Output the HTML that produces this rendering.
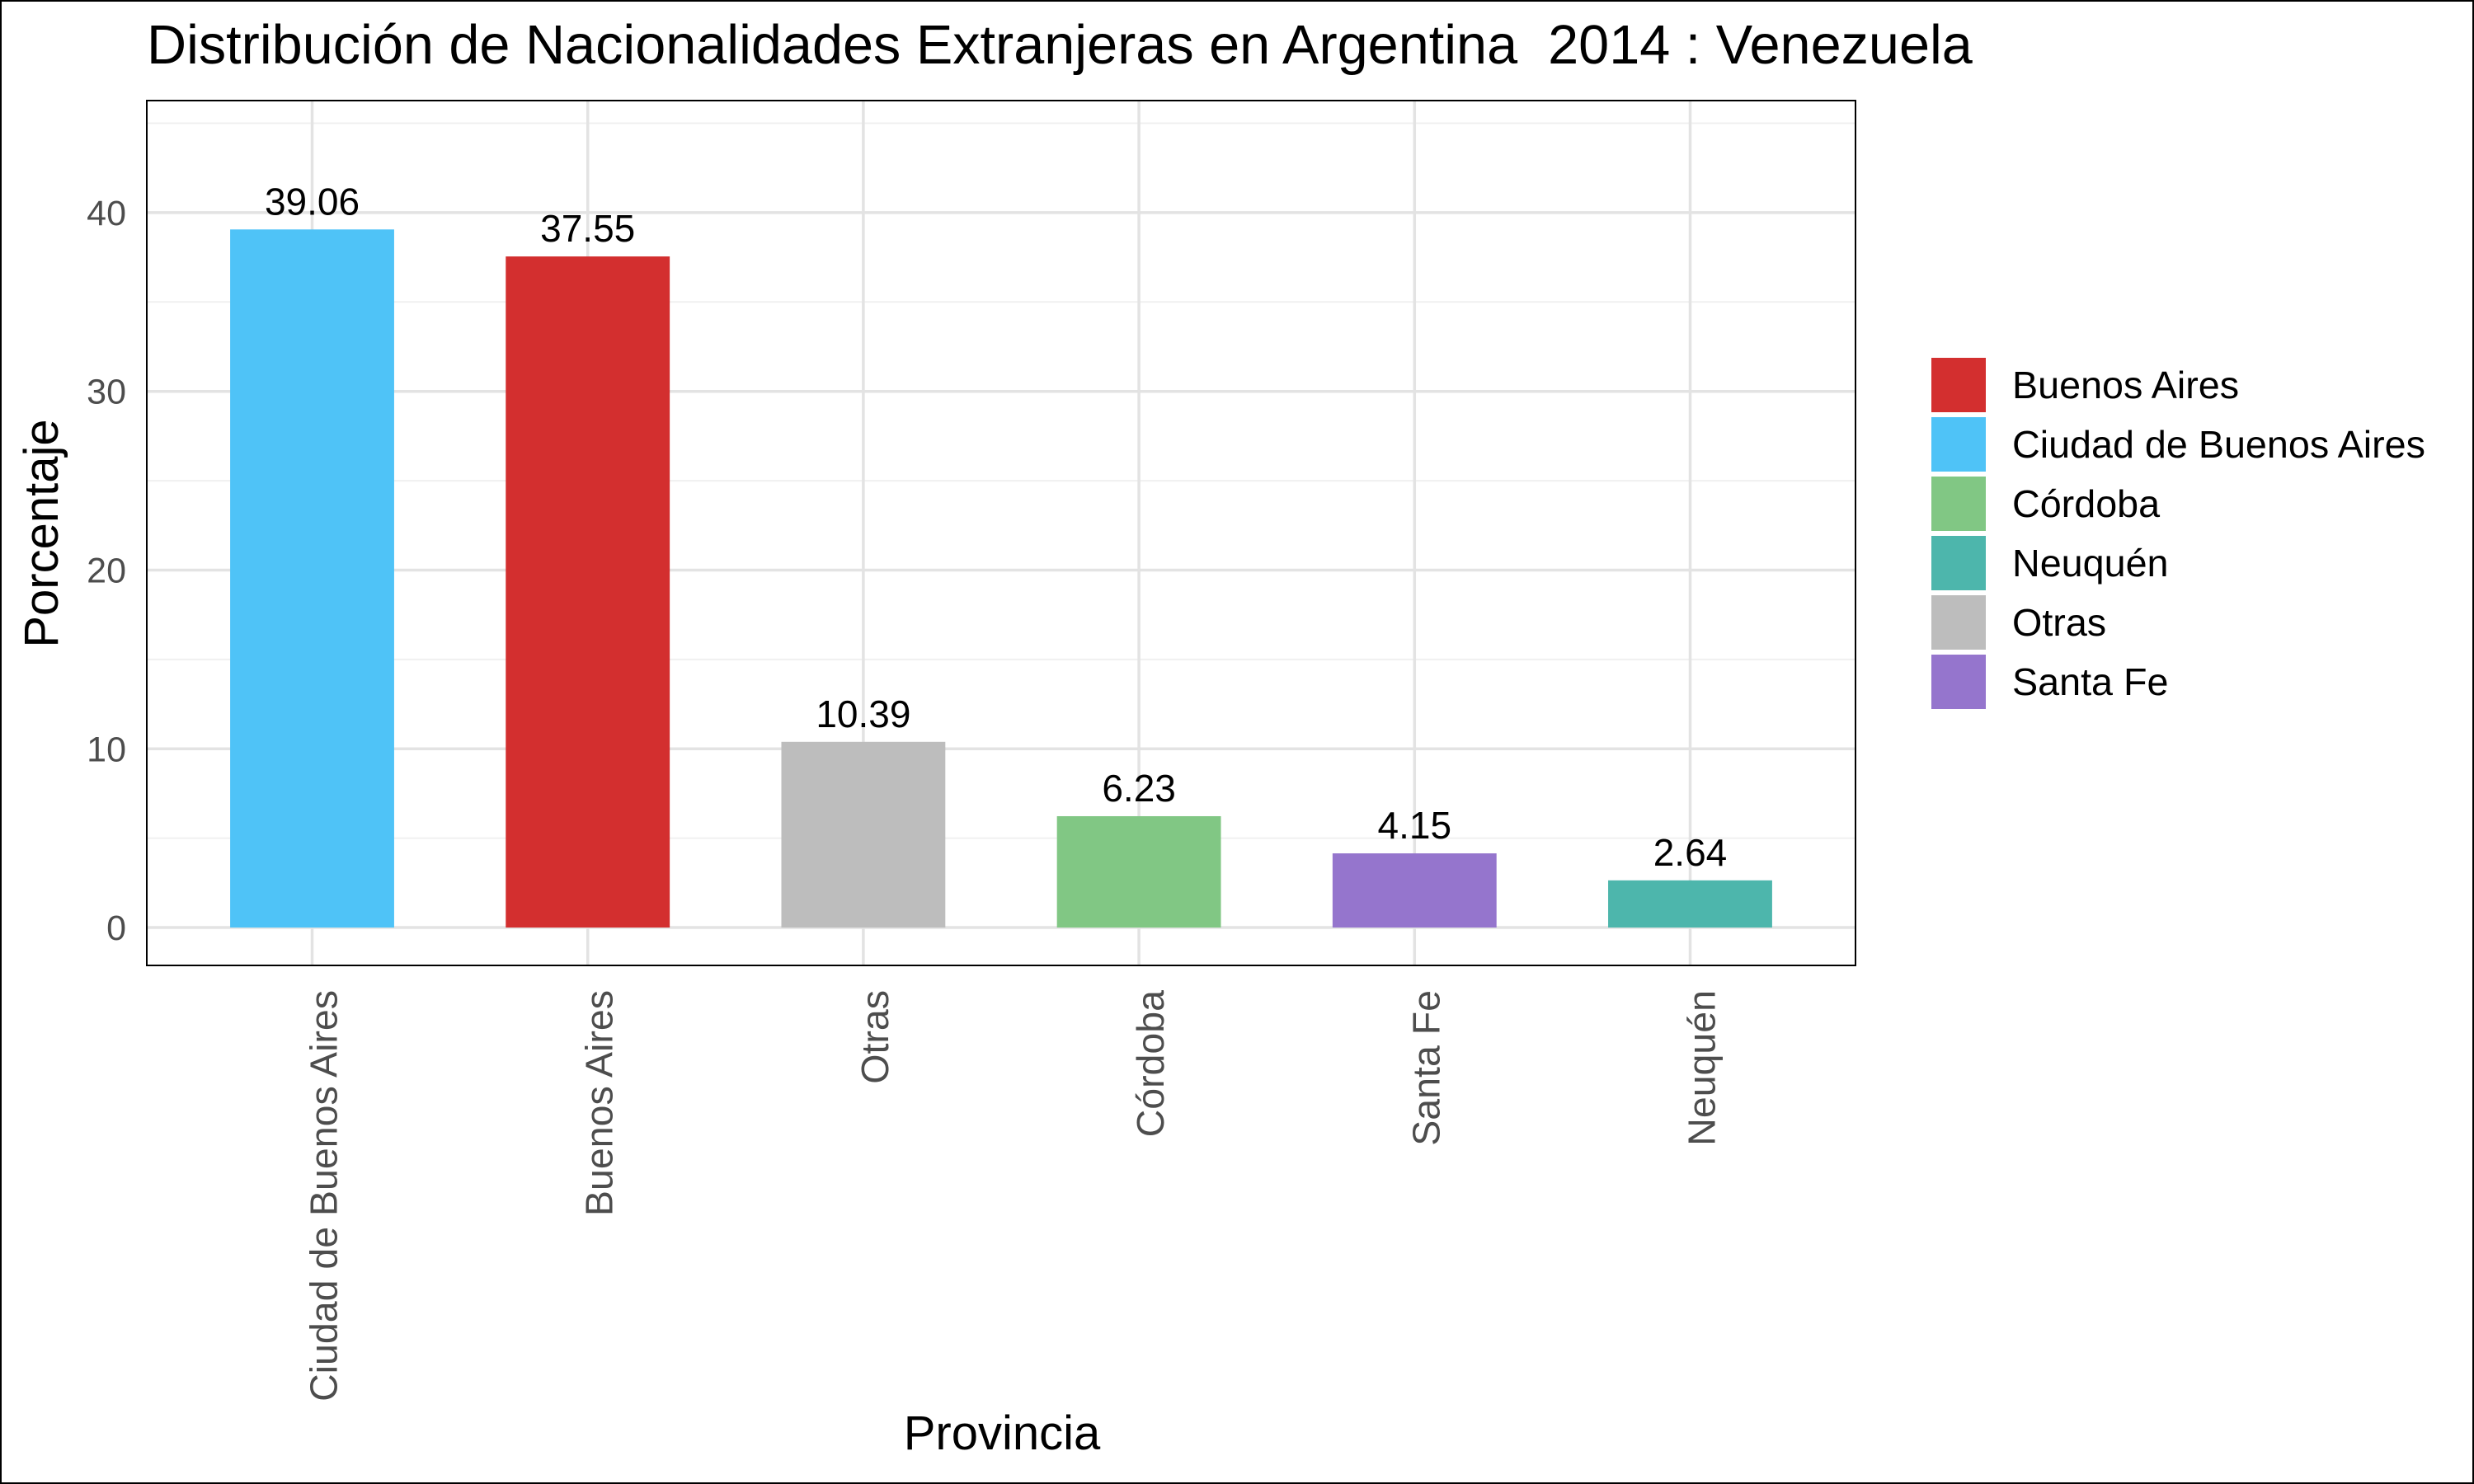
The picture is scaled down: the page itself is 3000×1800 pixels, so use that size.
<!DOCTYPE html>
<html><head><meta charset="utf-8"><style>
html,body{margin:0;padding:0;background:#fff}
svg{display:block;font-family:"Liberation Sans",sans-serif}
</style></head><body>
<svg id="chart" width="3000" height="1800" viewBox="0 0 3000 1800">
<rect x="1" y="1" width="2998" height="1798" fill="#fff" stroke="#000" stroke-width="2"/>
<text x="178" y="77" font-size="66.6" fill="#000">Distribución de Nacionalidades Extranjeras en Argentina&#160; 2014 : Venezuela</text>
<g id="grid"></g>
<g id="bars"></g>
<rect x="178" y="122" width="2072" height="1049" fill="none" stroke="#000" stroke-width="2"/>
<text transform="translate(70,647) rotate(-90)" text-anchor="middle" font-size="58" fill="#000">Porcentaje</text>
<text x="1215" y="1758" text-anchor="middle" font-size="58" fill="#000">Provincia</text>
<g id="legend"></g>
</svg>
<script>
const categories = ["Ciudad de Buenos Aires","Buenos Aires","Otras","Córdoba","Santa Fe","Neuquén"];
const values = [39.06,37.55,10.39,6.23,4.15,2.64];
const valueLabels = ["39.06","37.55","10.39","6.23","4.15","2.64"];
const colors = ["#4FC3F7","#D32F2F","#BDBDBD","#81C784","#9575CD","#4DB6AC"];
const yTicks = [0,10,20,30,40];
const legendLabels = ["Buenos Aires","Ciudad de Buenos Aires","Córdoba","Neuquén","Otras","Santa Fe"];
const legendColors = ["#D32F2F","#4FC3F7","#81C784","#4DB6AC","#BDBDBD","#9575CD"];

const NS="http://www.w3.org/2000/svg";
const pL=178,pR=2250,pT=122,pB=1171;
const yMin=-2.12,yMax=46.27;
const y=v=>pB-(v-yMin)/(yMax-yMin)*(pB-pT);
const step=(pR-pL)/(categories.length-1+1.2);
const x=i=>pL+step*(0.6+i);
const bw=step*0.595;
function mk(tag,attrs,parent){const e=document.createElementNS(NS,tag);for(const k in attrs)e.setAttribute(k,attrs[k]);parent.appendChild(e);return e;}
const grid=document.getElementById('grid'),bars=document.getElementById('bars'),leg=document.getElementById('legend');
for(let v=5;v<yMax;v+=10){if(v<yMin)continue;const l=mk('line',{x1:pL,x2:pR,y1:y(v),y2:y(v),stroke:'#f0f0f0','stroke-width':2},grid);

}
yTicks.forEach(t=>{const l=mk('line',{x1:pL,x2:pR,y1:y(t),y2:y(t),stroke:'#e3e3e3','stroke-width':3.5},grid);


const tx=mk('text',{x:153,y:y(t)+15,'text-anchor':'end','font-size':43,fill:'#4d4d4d'},grid);tx.textContent=t;

});
categories.forEach((c,i)=>{const l=mk('line',{x1:x(i),x2:x(i),y1:pT,y2:pB,stroke:'#e3e3e3','stroke-width':3.5},grid);


const r=mk('rect',{x:x(i)-bw/2,y:y(values[i]),width:bw,height:y(0)-y(values[i]),fill:colors[i]},bars);


const vt=mk('text',{x:x(i),y:y(values[i])-18,'text-anchor':'middle','font-size':46,fill:'#000'},bars);vt.textContent=valueLabels[i];


const xt=mk('text',{transform:`translate(${x(i)+30},1201) rotate(-90)`,'text-anchor':'end','font-size':46.5,fill:'#4d4d4d'},bars);xt.textContent=c;

});
legendLabels.forEach((s,i)=>{const yy=434+i*72;
const r=mk('rect',{x:2342,y:yy,width:66,height:66,fill:legendColors[i]},leg);


const t=mk('text',{x:2440,y:yy+49,'font-size':46.7,fill:'#000'},leg);t.textContent=s;

});
</script>
</body></html>
